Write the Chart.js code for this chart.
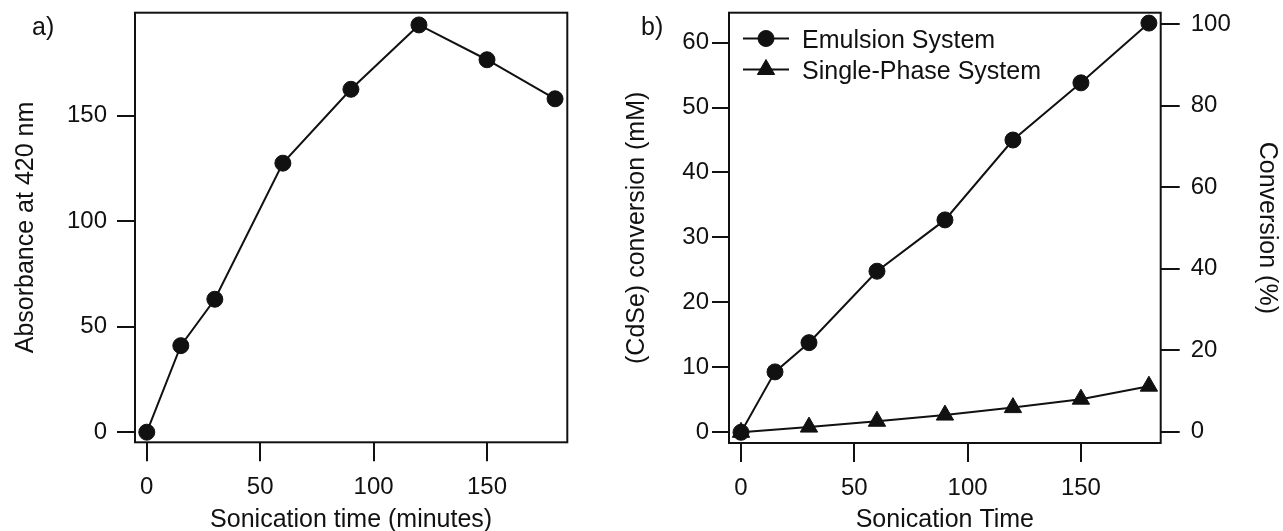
<!DOCTYPE html>
<html>
<head>
<meta charset="utf-8">
<script src="https://cdn.jsdelivr.net/npm/chart.js@4.4.1/dist/chart.umd.min.js"></script>
<style>
  html, body { margin: 0; padding: 0; background: #fff; }
  #wrap { position: relative; width: 1283px; height: 531px; overflow: hidden; }
  canvas { position: absolute; top: 0; }
  #chartA { left: 0; }
  #chartB { left: 620px; }
</style>
</head>
<body>
<div id="wrap">
  <canvas id="chartA" width="620" height="531"></canvas>
  <canvas id="chartB" width="663" height="531"></canvas>
</div>
<script>
// sonication times (minutes)
const timesA = [0, 15, 30, 60, 90, 120, 150, 180];
const absorbance = [0, 41, 63, 127.5, 162.5, 193, 176.5, 158];

const timesEmulsion = [0, 15, 30, 60, 90, 120, 150, 180];
const emulsion = [0, 9.3, 13.8, 24.8, 32.7, 45, 53.8, 63];
const timesSingle = [0, 30, 60, 90, 120, 150, 180];
const singlePhase = [0, 0.8, 1.7, 2.65, 3.8, 5.1, 7.1];

const FONT = "'Liberation Sans', Arial, Helvetica, sans-serif";
const INK = "#111";

const toPoints = (xs, ys) => xs.map((x, i) => ({ x, y: ys[i] }));

// box round the plot area + panel letter + inline legend
const framePlugin = {
  id: "frame",
  beforeDatasetsDraw(chart) {
    const { ctx, chartArea: a } = chart;
    ctx.save();
    ctx.strokeStyle = INK;
    ctx.lineWidth = 2;
    ctx.strokeRect(a.left, a.top, a.right - a.left, a.bottom - a.top);
    ctx.restore();
  },
  afterDraw(chart, args, opts) {
    const ctx = chart.ctx;
    ctx.save();
    ctx.fillStyle = INK;
    ctx.font = `25px ${FONT}`;
    ctx.textBaseline = "alphabetic";
    if (opts.label) ctx.fillText(opts.label, opts.labelX, 35);
    if (opts.legend) {
      chart.data.datasets.forEach((ds, i) => {
        const y = opts.legend.rows[i];
        ctx.strokeStyle = ds.borderColor;
        ctx.lineWidth = ds.borderWidth;
        ctx.beginPath();
        ctx.moveTo(opts.legend.x0, y);
        ctx.lineTo(opts.legend.x1, y);
        ctx.stroke();
        ctx.fillStyle = ds.pointBackgroundColor;
        ctx.strokeStyle = ds.pointBorderColor;
        ctx.lineWidth = 1;
        Chart.helpers.drawPoint(ctx, {
          pointStyle: ds.pointStyle, radius: ds.pointRadius, rotation: 0, borderWidth: 1
        }, (opts.legend.x0 + opts.legend.x1) / 2, y);
        ctx.fillStyle = INK;
        ctx.fillText(ds.label, opts.legend.textX, y + 9);
      });
    }
    ctx.restore();
  }
};

function lineSet(label, data, style, r) {
  return {
    label, data,
    borderColor: INK, borderWidth: 2,
    pointStyle: style, pointRadius: r, pointBorderWidth: 1,
    pointBackgroundColor: INK, pointBorderColor: INK,
    tension: 0
  };
}

// fixed-size axis; label overflow padding is dropped so the plot box stays put
function axis(opts) {
  const vertical = opts.position === "left" || opts.position === "right";
  return {
    type: "linear",
    position: opts.position,
    min: opts.min, max: opts.max,
    afterFit: s => {
      if (vertical) { s.width = opts.size; s.paddingTop = 0; s.paddingBottom = 0; }
      else { s.height = opts.size; s.paddingLeft = 0; s.paddingRight = 0; }
    },
    border: { display: false },
    grid: { drawOnChartArea: false, drawTicks: true, tickLength: opts.tick, color: INK, lineWidth: 2 },
    ticks: { stepSize: opts.step, includeBounds: false, padding: opts.pad, color: INK, font: { family: FONT, size: 24 } },
    title: { display: true, text: opts.title, color: INK, padding: opts.titlePad, font: { family: FONT, size: 25 } }
  };
}

const baseOptions = {
  responsive: false,
  animation: false,
  events: [],
  plugins: { legend: { display: false }, tooltip: { enabled: false } }
};

new Chart(document.getElementById("chartA"), {
  type: "line",
  data: { datasets: [lineSet("Absorbance", toPoints(timesA, absorbance), "circle", 8)] },
  options: {
    ...baseOptions,
    layout: { padding: { top: 12.7, right: 52.7, bottom: 0, left: 0 } },
    plugins: { ...baseOptions.plugins, frame: { label: "a)", labelX: 32 } },
    scales: {
      x: axis({ position: "bottom", min: -5.2, max: 185.4, step: 50, tick: 19, pad: 12,
        title: "Sonication time (minutes)", titlePad: { top: 0, bottom: -4 }, size: 88.7 }),
      y: axis({ position: "left", min: -4.8, max: 198.8, step: 50, tick: 18, pad: 10,
        title: "Absorbance at 420 nm", titlePad: { top: 11, bottom: 0 }, size: 135 })
    }
  },
  plugins: [framePlugin]
});

new Chart(document.getElementById("chartB"), {
  type: "line",
  data: {
    datasets: [
      { ...lineSet("Emulsion System", toPoints(timesEmulsion, emulsion), "circle", 8), yAxisID: "y" },
      { ...lineSet("Single-Phase System", toPoints(timesSingle, singlePhase), "triangle", 10), yAxisID: "y" }
    ]
  },
  options: {
    ...baseOptions,
    layout: { padding: { top: 12.7, right: 0, bottom: 0, left: 0 } },
    plugins: {
      ...baseOptions.plugins,
      frame: { label: "b)", labelX: 21, legend: { x0: 123, x1: 169, textX: 182, rows: [38.5, 69.5] } }
    },
    scales: {
      x: axis({ position: "bottom", min: -5.3, max: 185.2, step: 50, tick: 19, pad: 12,
        title: "Sonication Time", titlePad: { top: 0, bottom: -4 }, size: 88 }),
      y: axis({ position: "left", min: -1.65, max: 64.6, step: 10, tick: 17, pad: 3,
        title: "(CdSe) conversion (mM)", titlePad: { top: 2, bottom: 0 }, size: 109 }),
      y2: axis({ position: "right", min: -2.75, max: 102.8, step: 20, tick: 19, pad: 11,
        title: "Conversion (%)", titlePad: { top: 1, bottom: 0 }, size: 122.3 })
    }
  },
  plugins: [framePlugin]
});
</script>
</body>
</html>
